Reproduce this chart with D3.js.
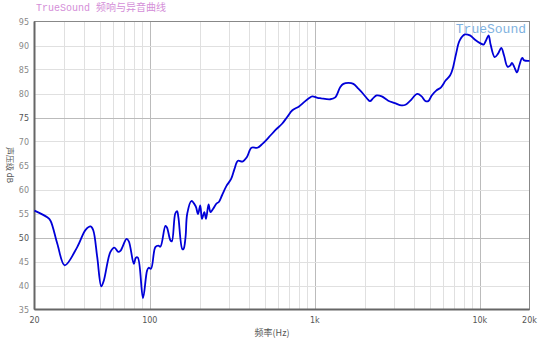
<!DOCTYPE html>
<html>
<head>
<meta charset="utf-8">
<script src="https://cdn.jsdelivr.net/npm/d3@7/dist/d3.min.js"></script>
<style>
  body { margin: 0; background: #fff; }
  text { font-family: "DejaVu Sans", sans-serif; }
</style>
</head>
<body>
<div id="chart"></div>
<script>
// 频响数据 (Hz, dB)
var freq = [20, 23.9, 25, 27.5, 30.5, 36.3, 40.8, 43.8, 45.4, 48, 50.8, 52.6, 57.7, 61, 64.3, 66.3,
  72.3, 74.6, 80, 82.3, 84.6, 90.9, 96.2, 98.4, 101.7, 108, 112.6, 116, 124.3, 127, 133.3, 136,
  142.6, 146.3, 149, 157.3, 160, 164.6, 168.4, 178.5, 189.6, 196, 202, 207, 214, 219, 227, 233,
  242, 254, 262, 274, 292, 311, 326, 342, 364, 387, 413, 449, 481, 527, 578, 633, 680, 731, 802,
  860, 920, 965, 1039, 1090, 1240, 1330, 1424, 1490, 1598, 1713, 1836, 1967, 2080, 2160, 2265,
  2373, 2544, 2784, 3055, 3276, 3512, 3765, 4170, 4440, 4650, 4870, 5110, 5440, 5820, 6200,
  6610, 6840, 7180, 7540, 8120, 8710, 9350, 10030, 10530, 10880, 11300, 11620, 12300, 12900,
  13500, 14020, 14710, 15270, 15650, 16180, 16800, 17400, 18070, 18580, 20000];
var spl = [55.6, 54.2, 53.5, 48.7, 44.2, 48.0, 51.6, 52.3, 51.5, 45.9, 39.8, 41.0, 47.0, 47.9, 47.0, 47.2,
  49.7, 49.2, 44.5, 45.8, 45.8, 37.4, 43.1, 43.7, 43.5, 48.0, 48.3, 48.1, 52.4, 52.1, 49.4, 49.2,
  55.0, 55.5, 54.2, 47.6, 47.6, 50.1, 54.9, 57.6, 56.5, 54.9, 56.7, 53.9, 55.3, 53.9, 56.9, 55.3,
  56.0, 57.1, 57.4, 58.8, 60.8, 62.2, 64.3, 66.0, 65.8, 66.7, 68.7, 68.7, 69.5, 70.9, 72.4, 73.7, 75.1, 76.5, 77.3,
  78.2, 79.0, 79.4, 79.1, 79.0, 78.8, 79.2, 81.3, 82.0, 82.2, 82.0, 81.0, 79.9, 78.9, 78.4, 79.1,
  79.6, 79.4, 78.5, 78.0, 77.6, 77.6, 78.4, 79.9, 79.4, 78.5, 78.4, 79.6, 80.6, 81.3, 82.7,
  83.8, 85.1, 88.3, 91.0, 92.3, 92.1, 91.2, 90.5, 90.2, 91.0, 92.1, 90.2, 87.6, 88.3,
  89.5, 87.9, 85.6, 85.8, 86.4, 85.5, 84.4, 86.0, 87.4, 86.9, 86.8];

var xTicks = [20, 100, 1000, 10000, 20000];
var xTickLabels = ["20", "100", "1k", "10k", "20k"];
var yTicks = d3.range(35, 96, 5);
var darkRows = [50, 75];

var width = 550;
var height = 344;

var svg = d3.select("#chart")
  .append("svg")
  .attr("width", width)
  .attr("height", height);

var x = d3.scaleLog().domain([20, 20000]).range([34.5, 529.5]);
var y = d3.scaleLinear().domain([35, 95]).range([309.5, 21.5]);

// 网格
var vGrid = [];
[10, 100, 1000, 10000].forEach(function(dec) {
  for (var k = 1; k < 10; k++) {
    var f = dec * k;
    if (f > 20 && f < 20000) vGrid.push(f);
  }
});

svg.append("g").selectAll("line")
  .data(vGrid)
  .enter().append("line")
  .attr("x1", function(d) { return Math.round(x(d)) + 0.5; })
  .attr("x2", function(d) { return Math.round(x(d)) + 0.5; })
  .attr("y1", y(95)).attr("y2", y(35))
  .attr("stroke", function(d) { return [100, 1000, 10000].indexOf(d) >= 0 ? "#bbbbbb" : "#e0e0e0"; })
  .attr("stroke-width", 1);

svg.append("g").selectAll("line")
  .data(yTicks.filter(function(d) { return d > 35 && d < 95; }))
  .enter().append("line")
  .attr("x1", x(20)).attr("x2", x(20000))
  .attr("y1", function(d) { return Math.round(y(d)) + 0.5; })
  .attr("y2", function(d) { return Math.round(y(d)) + 0.5; })
  .attr("stroke", function(d) { return darkRows.indexOf(d) >= 0 ? "#bbbbbb" : "#e0e0e0"; })
  .attr("stroke-width", 1);

// 边框
svg.append("rect")
  .attr("x", x(20)).attr("y", y(95))
  .attr("width", x(20000) - x(20)).attr("height", y(35) - y(95))
  .attr("fill", "none").attr("stroke", "#888").attr("stroke-width", 1);
svg.append("line")
  .attr("x1", x(20)).attr("x2", x(20)).attr("y1", y(95)).attr("y2", y(35))
  .attr("stroke", "#666").attr("stroke-width", 2);
svg.append("line")
  .attr("x1", x(20)).attr("x2", x(20000)).attr("y1", y(35)).attr("y2", y(35))
  .attr("stroke", "#666").attr("stroke-width", 2);

// 刻度文字
svg.append("g").selectAll("text")
  .data(yTicks)
  .enter().append("text")
  .attr("x", 29)
  .attr("y", function(d) { return y(d) + 3; })
  .attr("text-anchor", "end")
  .attr("font-size", 8)
  .attr("fill", function(d) { return darkRows.indexOf(d) >= 0 ? "#555" : "#888"; })
  .text(function(d) { return d; });

svg.append("g").selectAll("text")
  .data(xTicks)
  .enter().append("text")
  .attr("x", function(d) { return x(d); })
  .attr("y", 323)
  .attr("text-anchor", "middle")
  .attr("font-size", 8)
  .attr("fill", "#555")
  .text(function(d, i) { return xTickLabels[i]; });

// 轴标题
svg.append("text")
  .attr("x", 272).attr("y", 336)
  .attr("text-anchor", "middle")
  .attr("font-size", 9)
  .attr("fill", "#555")
  .style("font-family", "'Noto Sans CJK SC', sans-serif")
  .text("频率(Hz)");

svg.append("text")
  .attr("transform", "translate(7,165) rotate(90)")
  .attr("text-anchor", "middle")
  .attr("font-size", 8)
  .attr("fill", "#555")
  .style("font-family", "'Noto Sans CJK SC', sans-serif")
  .text("声压级   dB");

// 标题
svg.append("text")
  .attr("x", 36).attr("y", 11)
  .attr("font-size", 10)
  .attr("fill", "#d48ed8")
  .style("font-family", "'Liberation Mono', 'Noto Sans CJK SC', monospace")
  .text("TrueSound 频响与异音曲线");

svg.append("text")
  .attr("x", 526).attr("y", 33)
  .attr("text-anchor", "end")
  .attr("font-size", 13)
  .attr("fill", "#7fb2e0")
  .style("font-family", "'Liberation Mono', monospace")
  .text("TrueSound");

// 曲线
var line = d3.line()
  .x(function(d) { return x(d[0]); })
  .y(function(d) { return y(d[1]); })
  .curve(d3.curveCatmullRom.alpha(0.5));

svg.append("path")
  .datum(d3.zip(freq, spl))
  .attr("d", line)
  .attr("fill", "none")
  .attr("stroke", "#0000d8")
  .attr("stroke-width", 1.8);
</script>
</body>
</html>
